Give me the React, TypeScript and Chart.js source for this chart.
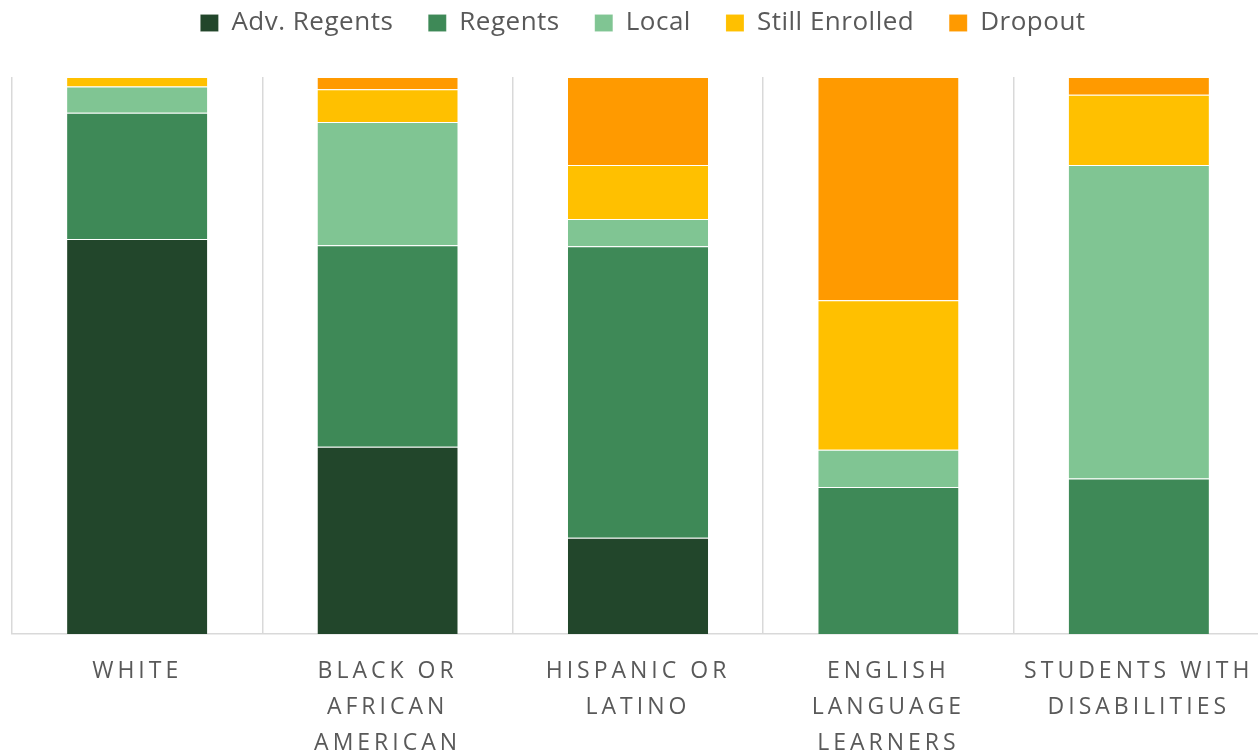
import React, { useEffect, useRef } from "react";
import { Chart, registerables } from "chart.js";

Chart.register(...registerables);

const categories: string[][] = [
  ["WHITE"],
  ["BLACK OR", "AFRICAN", "AMERICAN"],
  ["HISPANIC OR", "LATINO"],
  ["ENGLISH", "LANGUAGE", "LEARNERS"],
  ["STUDENTS WITH", "DISABILITIES"],
];

const seriesNames = ["Adv. Regents", "Regents", "Local", "Still Enrolled", "Dropout"];

const advRegents = [70.9, 33.6, 17.3, 0, 0];
const regents = [22.7, 36.2, 52.3, 26.4, 27.9];
const local = [4.7, 22.1, 4.9, 6.7, 56.3];
const stillEnrolled = [1.7, 5.9, 9.7, 26.8, 12.6];
const dropout = [0, 2.2, 15.8, 40.1, 3.2];

const seriesColors = ["#22462b", "#3e8957", "#80c593", "#ffc000", "#ff9a00"];

const FONT = "'Open Sans', sans-serif";
const TEXT_COLOR = "#595959";
const GRID_COLOR = "#d9d9d9";

const spacingPlugin = {
  id: "textSpacing",
  beforeLayout(chart: any) {
    const lg = chart.legend;
    if (lg && !lg.__patched) {
      const fit = lg.fit.bind(lg);
      const draw = lg.draw.bind(lg);
      lg.fit = function () {
        const ctx = chart.ctx;
        ctx.save();
        ctx.letterSpacing = "0.5px";
        fit();
        ctx.restore();
        this.height += 34;
      };
      lg.draw = function (...args: any[]) {
        const ctx = chart.ctx;
        ctx.save();
        ctx.letterSpacing = "0.5px";
        ctx.translate(5, 3);
        draw(...args);
        ctx.restore();
      };
      lg.__patched = true;
    }
  },
  beforeDraw(chart: any) {
    const s = chart.scales.x;
    if (s && !s.__patched) {
      const drawLabels = s.drawLabels.bind(s);
      s.drawLabels = (area: any) => {
        const ctx = chart.ctx;
        ctx.save();
        ctx.letterSpacing = "4px";
        drawLabels(area);
        ctx.restore();
      };
      s.__patched = true;
    }
  },
};

export default function App() {
  const canvasRef = useRef<HTMLCanvasElement | null>(null);

  useEffect(() => {
    document.body.style.margin = "0";
    const canvas = canvasRef.current;
    if (!canvas) return;
    const seriesData = [advRegents, regents, local, stillEnrolled, dropout];
    const chart = new Chart(canvas, {
      type: "bar",
      data: {
        labels: categories,
        datasets: seriesNames.map((name, i) => ({
          label: name,
          data: seriesData[i],
          backgroundColor: seriesColors[i],
          borderColor: "rgba(255,255,255,0.45)",
          borderWidth: { top: 1, right: 0, bottom: 0, left: 0 },
          borderSkipped: false as any,
          barPercentage: 0.56,
          categoryPercentage: 1,
        })),
      },
      options: {
        responsive: false,
        animation: false,
        devicePixelRatio: 1,
        layout: { padding: { left: 12, right: 0, top: -28, bottom: 0 } },
        plugins: {
          legend: {
            position: "top",
            labels: {
              color: TEXT_COLOR,
              font: { family: FONT, size: 26 },
              boxWidth: 18,
              boxHeight: 17,
              padding: 35,
            },
          },
          tooltip: { enabled: false },
          title: { display: false },
        },
        scales: {
          x: {
            stacked: true,
            grid: {
              display: true,
              color: GRID_COLOR,
              lineWidth: 1.5,
              drawTicks: false,
              offset: true,
            },
            border: { display: true, color: GRID_COLOR, width: 1.5 },
            ticks: {
              color: TEXT_COLOR,
              font: { family: FONT, size: 23, lineHeight: "36px" as any },
              padding: 19,
              maxRotation: 0,
              autoSkip: false,
            },
          },
          y: {
            stacked: true,
            display: false,
            min: 0,
            max: 100,
          },
        },
      },
      plugins: [spacingPlugin],
    });
    return () => chart.destroy();
  }, []);

  return (
    <div
      style={{
        position: "fixed",
        left: 0,
        top: 0,
        width: 1258,
        height: 753,
        overflow: "hidden",
        background: "#ffffff",
      }}
    >
      <canvas ref={canvasRef} width={1264} height={780} style={{ display: "block" }} />
    </div>
  );
}
